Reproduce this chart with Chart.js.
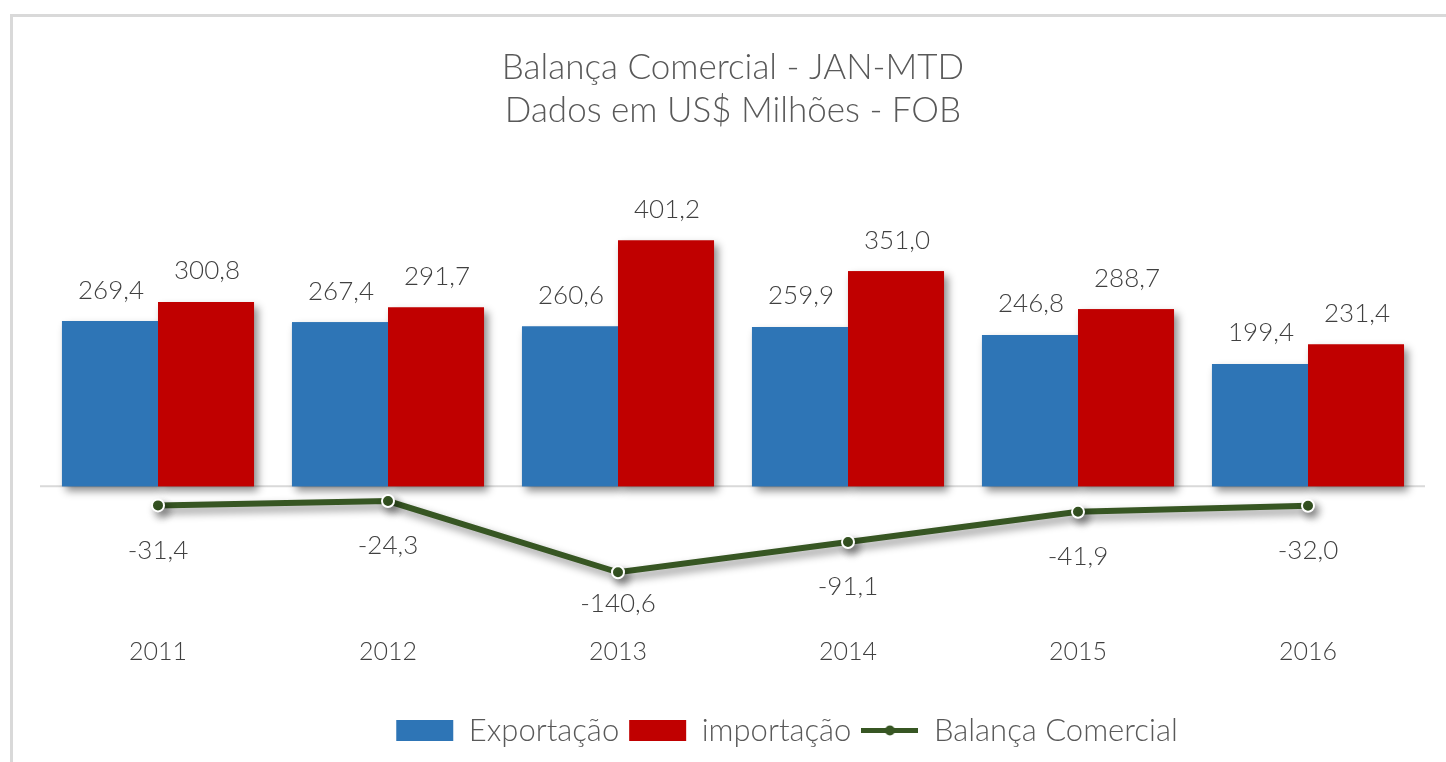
<!DOCTYPE html>
<html>
<head>
<meta charset="utf-8">
<script src="https://cdn.jsdelivr.net/npm/chart.js@4/dist/chart.umd.min.js"></script>
<style>
  html, body { margin: 0; padding: 0; background: #fff; }
  #frame { position: absolute; left: 10px; top: 14px; width: 1440px; height: 760px;
           border-top: 3px solid #d9d9d9; border-left: 3px solid #d9d9d9; }
  #wrap { position: absolute; left: 0; top: 0; width: 1446px; height: 762px; }
</style>
</head>
<body>
<div id="frame"></div>
<div id="wrap"><canvas id="chart" width="1446" height="762"></canvas></div>
<script>
let categories = ['2011', '2012', '2013', '2014', '2015', '2016']
let exportacao = [269.4, 267.4, 260.6, 259.9, 246.8, 199.4]
let importacao = [300.8, 291.7, 401.2, 351.0, 288.7, 231.4]
let balanca = [-31.4, -24.3, -140.6, -91.1, -41.9, -32.0]

const BLUE = '#2e75b6'
const RED = '#c00000'
const GREEN = '#375623'
const TXT = '#404040'
const FONT = 'Lato, "Open Sans", sans-serif'

function fmt(v) {
    return v.toFixed(1).replace('.', ',')
}

// small picture for the line entry of the legend
function lineLegendIcon() {
    let c = document.createElement('canvas')
    c.width = 57
    c.height = 21
    let g = c.getContext('2d')
    g.strokeStyle = GREEN
    g.lineWidth = 5
    g.beginPath()
    g.moveTo(0, 10.5)
    g.lineTo(57, 10.5)
    g.stroke()
    g.fillStyle = GREEN
    g.beginPath()
    g.arc(28.5, 10.5, 5, 0, Math.PI * 2)
    g.fill()
    return c
}

function setShadow(ctx) {
    ctx.shadowColor = 'rgba(0,0,0,0.45)'
    ctx.shadowBlur = 8
    ctx.shadowOffsetX = 4
    ctx.shadowOffsetY = 5
}

const shadowPlugin = {
    id: 'shadows',
    afterLayout(chart) {
        // legend sits a bit right of centre in the original
        chart.legend.left += 54
        chart.legend.right += 54
    },
    beforeDatasetsDraw(chart) {
        let ctx = chart.ctx
        // zero line
        let y = chart.scales.y.getPixelForValue(0)
        ctx.save()
        ctx.strokeStyle = '#d9d9d9'
        ctx.lineWidth = 2
        ctx.beginPath()
        ctx.moveTo(chart.chartArea.left - 3, y)
        ctx.lineTo(chart.chartArea.right + 2, y)
        ctx.stroke()
        ctx.restore()
        // shadow pass for the bars, the real bars are drawn over it
        ctx.save()
        setShadow(ctx)
        chart.data.datasets.forEach((ds, i) => {
            if (ds.type !== 'bar') return
            chart.getDatasetMeta(i).data.forEach(el => el.draw(ctx))
        })
        ctx.restore()
    },
    beforeDatasetDraw(chart, args) {
        let ctx = chart.ctx
        ctx.save()
        if (args.meta.type === 'line') setShadow(ctx)
    },
    afterDatasetDraw(chart) {
        chart.ctx.restore()
    }
}

const labelPlugin = {
    id: 'valueLabels',
    afterDatasetsDraw(chart) {
        let ctx = chart.ctx
        ctx.save()
        ctx.fillStyle = TXT
        ctx.font = '300 26px ' + FONT
        ctx.textAlign = 'center'
        ctx.textBaseline = 'middle'
        chart.data.datasets.forEach((ds, i) => {
            let meta = chart.getDatasetMeta(i)
            meta.data.forEach((el, j) => {
                let v = ds.data[j]
                if (ds.type === 'line') {
                    let ly = Math.min(el.y + 45, 604)
                    ctx.fillText(fmt(v), el.x, ly)
                } else {
                    ctx.fillText(fmt(v), el.x + 1, el.y - 31)
                }
            })
        })
        ctx.restore()
    }
}

new Chart(document.getElementById('chart').getContext('2d'), {
    data: {
        labels: categories,
        datasets: [{
            type: 'bar',
            label: 'Exportação',
            data: exportacao,
            backgroundColor: BLUE,
        }, {
            type: 'bar',
            label: 'importação',
            data: importacao,
            backgroundColor: RED,
        }, {
            type: 'line',
            label: 'Balança Comercial',
            data: balanca,
            borderColor: GREEN,
            backgroundColor: GREEN,
            borderWidth: 6,
            tension: 0,
            pointRadius: 6,
            pointBorderColor: '#fff',
            pointBorderWidth: 2,
            pointBackgroundColor: GREEN,
            order: -1,
        }],
    },
    plugins: [shadowPlugin, labelPlugin],
    options: {
        responsive: false,
        animation: false,
        devicePixelRatio: 1,
        layout: { padding: { left: 43, right: 23, top: 0, bottom: 6 } },
        datasets: {
            bar: { barPercentage: 1, categoryPercentage: 0.835 }
        },
        scales: {
            x: {
                grid: { display: false, drawTicks: false },
                border: { display: false },
                ticks: { color: TXT, font: { family: FONT, size: 25, weight: 300 }, padding: 13 },
                afterFit(scale) { scale.height += 25 },
            },
            y: {
                display: false,
                min: -225,
                max: 536,
            }
        },
        plugins: {
            title: {
                display: true,
                text: ['Balança Comercial - JAN-MTD', 'Dados em US$ Milhões - FOB'],
                color: '#595959',
                font: { family: FONT, size: 35, weight: 300, lineHeight: 1.24 },
                padding: { top: 46, bottom: 25 },
            },
            legend: {
                position: 'bottom',
                labels: {
                    color: '#595959',
                    font: { family: FONT, size: 31, weight: 300 },
                    usePointStyle: true,
                    pointStyleWidth: 57,
                    boxHeight: 21,
                    padding: 10,
                    sort: (a, b) => a.datasetIndex - b.datasetIndex,
                    generateLabels(chart) {
                        let items = Chart.defaults.plugins.legend.labels.generateLabels(chart)
                        items.forEach(it => {
                            if (it.datasetIndex === 2) it.pointStyle = lineLegendIcon()
                            else it.pointStyle = 'rect'
                        })
                        return items
                    }
                }
            },
            tooltip: { enabled: false }
        }
    }
})
</script>
</body>
</html>
